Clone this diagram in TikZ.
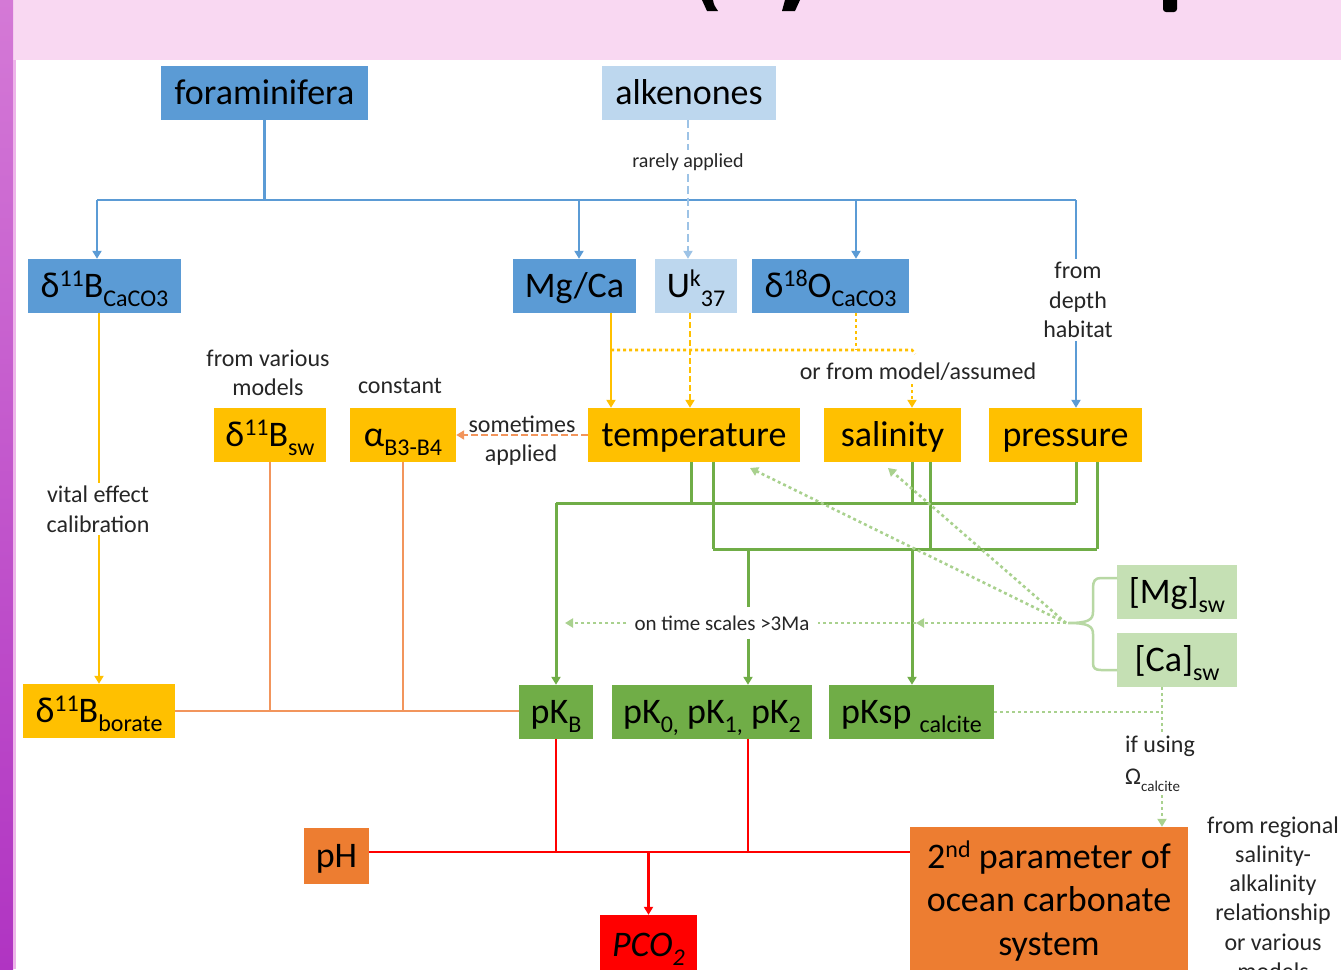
\documentclass[tikz,border=0pt]{standalone}
\usepackage{fontspec}
\setmainfont{Carlito}
\usetikzlibrary{arrows.meta}
\definecolor{cBlue}{HTML}{5B9BD5}
\definecolor{cLBlue}{HTML}{BDD7EE}
\definecolor{cDBlue}{HTML}{9DC3E6}
\definecolor{cGold}{HTML}{FFC000}
\definecolor{cOrange}{HTML}{ED7D31}
\definecolor{cOLine}{HTML}{F2955C}
\definecolor{cGreen}{HTML}{70AD47}
\definecolor{cLGreen}{HTML}{C5E0B4}
\definecolor{cDotGreen}{HTML}{A9D18E}
\definecolor{cRed}{HTML}{FF0000}
\definecolor{cPink}{HTML}{F9D8F2}
\definecolor{cPurpA}{HTML}{D479D6}
\definecolor{cPurpB}{HTML}{B034C2}
\definecolor{cPurpL}{HTML}{EEB4EA}
\definecolor{cText}{HTML}{262626}
\newcommand{\mysup}[1]{\raisebox{0.3em}{\fontsize{24}{24}\selectfont #1}}
\newcommand{\mysub}[1]{\raisebox{-0.25em}{\fontsize{24}{24}\selectfont #1}}
\newcommand{\mysubsm}[1]{\raisebox{-0.3em}{\fontsize{15}{15}\selectfont #1}}
\tikzset{
  box/.style={rectangle, inner sep=0pt, text height=27pt, text depth=5pt, font=\fontsize{36}{43.5}\selectfont, text=black},
  lab/.style={inner sep=3pt, align=center, font=\fontsize{24}{29.5}\selectfont, text=cText},
  arrowhd/.style={-{Triangle[width=9pt,length=8pt]}},
  blueln/.style={draw=cBlue, line width=2.8pt},
  bluedash/.style={draw=cDBlue, line width=2.8pt, dash pattern=on 8pt off 4pt},
  goldln/.style={draw=cGold, line width=2.4pt},
  golddash/.style={draw=cGold, line width=2.6pt, dash pattern=on 6pt off 3pt},
  golddot/.style={draw=cGold, line width=2.6pt, dash pattern=on 3pt off 3pt},
  orln/.style={draw=cOLine, line width=2.8pt},
  ordash/.style={draw=cOLine, line width=2.8pt, dash pattern=on 7pt off 3pt},
  grnln/.style={draw=cGreen, line width=3pt},
  grndot/.style={draw=cDotGreen, line width=2.6pt, dash pattern=on 3pt off 3pt},
  redln/.style={draw=cRed, line width=2.8pt},
}
\begin{document}
\begin{tikzpicture}[x=1pt,y=-1pt]
\useasboundingbox (0,0) rectangle (1341,969);
\clip (0,0) rectangle (1341,969);
% background
\fill[white] (0,0) rectangle (1341,969);
\fill[cPink] (13,0) rectangle (1341,60);
\shade[top color=cPurpA, bottom color=cPurpB] (0,0) rectangle (13,969);
\fill[cPurpL] (13,60) rectangle (16,969);
% partial title glyphs
\fill[black] (702,0) -- (713,0) .. controls (714,5) .. (718,11) -- (707,11) .. controls (704,6) .. (702,0) -- cycle;
\fill[black] (785,0) -- (800,0) .. controls (798,6) .. (795,11) -- (782,11) .. controls (784,6) .. (785,0) -- cycle;
\fill[black, rounded corners=3pt] (1163,-5) -- (1163,12) -- (1177,12) -- (1177,-5) -- cycle;

% boxes
\node[box, fill=cBlue, minimum width=207pt, minimum height=54pt] (foram) at (264.5,93) {foraminifera};
\node[box, fill=cLBlue, minimum width=174pt, minimum height=54pt] (alken) at (689,93) {alkenones};
\node[box, fill=cBlue, minimum width=153pt, minimum height=54pt] (d11Bc) at (104.5,286) {δ\mysup{11}B\mysub{CaCO3}};
\node[box, fill=cBlue, minimum width=123pt, minimum height=54pt] (mgca) at (574.5,286) {Mg/Ca};
\node[box, fill=cLBlue, minimum width=82pt, minimum height=54pt] (uk37) at (696,286) {U\mysup{k}\mysub{37}};
\node[box, fill=cBlue, minimum width=157pt, minimum height=54pt] (d18o) at (830.5,286) {δ\mysup{18}O\mysub{CaCO3}};
\node[box, fill=cGold, minimum width=112pt, minimum height=54pt] (d11Bsw) at (270,435) {δ\mysup{11}B\mysub{sw}};
\node[box, fill=cGold, minimum width=106pt, minimum height=54pt] (alpha) at (403,435) {α\mysub{B3-B4}};
\node[box, fill=cGold, minimum width=212pt, minimum height=54pt] (temp) at (694,435) {temperature};
\node[box, fill=cGold, minimum width=137pt, minimum height=54pt] (sal) at (892.5,435) {salinity};
\node[box, fill=cGold, minimum width=153pt, minimum height=54pt] (pres) at (1065.5,435) {pressure};
\node[box, fill=cLGreen, minimum width=120pt, minimum height=54pt] (mgsw) at (1177,592) {[Mg]\mysub{sw}};
\node[box, fill=cLGreen, minimum width=120pt, minimum height=54pt] (casw) at (1177,660) {[Ca]\mysub{sw}};
\node[box, fill=cGold, minimum width=152pt, minimum height=54pt] (borate) at (99,711) {δ\mysup{11}B\mysub{borate}};
\node[box, fill=cGreen, minimum width=74pt, minimum height=54pt] (pkb) at (556,712) {pK\mysub{B}};
\node[box, fill=cGreen, minimum width=200pt, minimum height=54pt] (pk012) at (712,712) {pK\mysub{0,} pK\mysub{1,} pK\mysub{2}};
\node[box, fill=cGreen, minimum width=165pt, minimum height=54pt] (pksp) at (911.5,712) {pKsp \mysub{calcite}};
\node[box, fill=cOrange, minimum width=65pt, minimum height=56pt] (ph) at (336.5,856) {pH};
\node[box, fill=cRed, minimum width=97pt, minimum height=60pt] (pco2) at (648.5,945) {\textit{PCO}\mysub{\textit{2}}};
\node[rectangle, inner sep=0pt, fill=cOrange, minimum width=278pt, minimum height=148pt, align=center, font=\fontsize{36}{43.5}\selectfont, text=black] (second) at (1049,901) {2\mysup{nd} parameter of\\ocean carbonate\\system};

% labels
\node[lab, font=\fontsize{20}{24}\selectfont] (rarely) at (688,162) {rarely applied};
\node[lab] (depth) at (1078,300) {from\\depth\\habitat};
\node[lab] (model) at (918,372) {or from model/assumed};
\node[lab] (various) at (268,373) {from various\\models};
\node[lab] (const) at (400,386) {constant};
\node[lab, inner sep=0pt] (sometimes) at (522,424) {sometimes};
\node[lab, inner sep=0pt] (applied) at (521,455) {applied};
\node[lab] (vital) at (98,509) {vital effect\\calibration};
\node[lab, font=\fontsize{21}{25}\selectfont, inner sep=8pt] (time) at (722,623) {on time scales >3Ma};
\node[lab, align=left, font=\fontsize{24}{32}\selectfont] (ifusing) at (1160,764) {if using\\Ω\mysubsm{calcite}};
\node[lab, font=\fontsize{24}{29.3}\selectfont] (regional) at (1273,898) {from regional\\salinity-\\alkalinity\\relationship\\or various\\models};

% blue connectors
\coordinate (fb) at (264.5,200);
\coordinate (bL) at (97,200);
\coordinate (bM) at (579,200);
\coordinate (bD) at (856,200);
\coordinate (bR) at (1076,200);
\coordinate (ak) at (688,0);
\draw[blueln] (foram.south) -- (fb);
\draw[blueln] (bL) -- (bR);
\draw[blueln, arrowhd] (bL) -- (bL |- d11Bc.north);
\draw[blueln, arrowhd] (bM) -- (bM |- mgca.north);
\draw[blueln, arrowhd] (bD) -- (bD |- d18o.north);
\draw[blueln] (bR) -- (bR |- depth.north);
\draw[blueln, arrowhd] (bR |- depth.south) -- (bR |- pres.north);
\draw[bluedash] (ak |- alken.south) -- (ak |- rarely.north);
\draw[bluedash, arrowhd] (ak |- rarely.south) -- (ak |- uk37.north);

% gold connectors
\coordinate (ym) at (611,0);
\coordinate (yu) at (690,0);
\coordinate (yd) at (856,350);
\coordinate (ys) at (912,350);
\draw[goldln, arrowhd] (ym |- mgca.south) -- (ym |- temp.north);
\draw[golddash, arrowhd] (yu |- uk37.south) -- (yu |- temp.north);
\draw[golddot] (yd |- d18o.south) -- (yd);
\draw[golddot] (ym |- yd) -- (ys) -- ++(3,4);
\draw[golddot, arrowhd] (ys |- model.south) -- (ys |- sal.north);
\draw[goldln] (d11Bc.south -| borate.north) -- (vital.north -| borate.north);
\draw[goldln, arrowhd] (vital.south -| borate.north) -- (borate.north);

% orange connectors
\draw[orln] (borate.east) -- (borate.east -| pkb.west);
\draw[orln] (d11Bsw.south) -- (d11Bsw.south |- borate.east);
\draw[orln] (alpha.south) -- (alpha.south |- borate.east);
\draw[ordash, arrowhd] (temp.west) -- (alpha.east);

% green connectors
\coordinate (gu1) at (556,503);
\coordinate (gu2) at (1076,503);
\coordinate (t1) at (691,503);
\coordinate (s1) at (912,503);
\coordinate (gl1) at (713,549);
\coordinate (gl2) at (1097,549);
\coordinate (s2) at (930,549);
\coordinate (k0) at (748,549);
\coordinate (ksp) at (912,549);
\draw[grnln] (t1 |- temp.south) -- (t1);
\draw[grnln] (s1 |- sal.south) -- (s1);
\draw[grnln] (gu2 |- pres.south) -- (gu2);
\draw[grnln] (gu1) -- (gu2);
\draw[grnln, arrowhd] (gu1) -- (gu1 |- pkb.north);
\draw[grnln] (gl1 |- temp.south) -- (gl1);
\draw[grnln] (s2 |- sal.south) -- (s2);
\draw[grnln] (gl2 |- pres.south) -- (gl2);
\draw[grnln] (gl1) -- (gl2);
\draw[grnln] (k0) -- (k0 |- time.north);
\draw[grnln, arrowhd] (k0 |- time.south) -- (k0 |- pk012.north);
\draw[grnln, arrowhd] (ksp) -- (ksp |- pksp.north);

% light green brace and dotted connectors
\draw[draw=cLGreen!85!cGreen, line width=2.5pt] (1117,578) -- (1101,578) .. controls (1095,578) and (1093,581) .. (1093,588) -- (1093,612) .. controls (1093,620) and (1088,623) .. (1068,623) .. controls (1088,623) and (1093,626) .. (1093,634) -- (1093,663) .. controls (1093,668) and (1095,670) .. (1101,670) -- (1117,670);
\coordinate (tipg) at (1066,623);
\coordinate (dt) at (750,468);
\coordinate (ds) at (888,468);
\coordinate (hx) at (916,623);
\coordinate (hl) at (565,623);
\coordinate (cx) at (1162,0);
\draw[grndot, arrowhd] (tipg) -- (dt);
\draw[grndot, arrowhd] (tipg) -- (ds);
\draw[grndot, arrowhd] (tipg) -- (hx);
\draw[grndot] (hx) -- (time.east);
\draw[grndot, arrowhd] (time.west) -- (hl);
\draw[grndot] (cx |- casw.south) -- (cx |- ifusing.north);
\draw[grndot, arrowhd] (cx |- ifusing.south) -- (cx |- second.north);
\draw[grndot] (pksp.east) -- (pksp.east -| cx);

% red connectors
\coordinate (rh) at (0,852);
\coordinate (rk) at (748,0);
\draw[redln] (ph.east |- rh) -- (second.west |- rh);
\draw[redln] (pkb.south) -- (pkb.south |- rh);
\draw[redln] (rk |- pk012.south) -- (rk |- rh);
\draw[redln, arrowhd] (pco2.north |- rh) -- (pco2.north);
\end{tikzpicture}
\end{document}
